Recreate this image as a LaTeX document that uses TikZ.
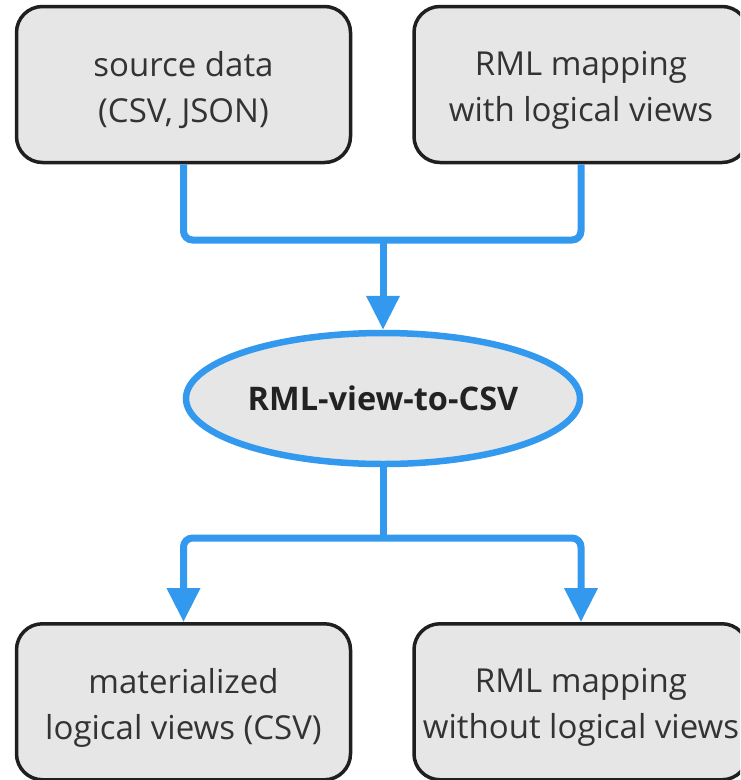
\documentclass[tikz,border=0pt]{standalone}
\usepackage{fontspec}
\setmainfont{Open Sans}
\usetikzlibrary{arrows.meta,shapes.geometric}
\definecolor{flowblue}{HTML}{3399EE}
\definecolor{boxfill}{HTML}{E6E6E6}
\definecolor{boxline}{HTML}{1F1F1F}
\definecolor{txt}{HTML}{333333}
\definecolor{boldtxt}{HTML}{222222}

\begin{document}
\begin{tikzpicture}[x=1pt,y=-1pt,
  card/.style={draw=boxline, line width=3.5pt, fill=boxfill, rounded corners=26pt,
    minimum width=334pt, minimum height=156pt, inner sep=0pt},
  cardtext/.style={inner sep=0pt, align=center, text=txt,
    font=\fontsize{33}{46}\selectfont},
  proc/.style={ellipse, draw=flowblue, line width=6.5pt, fill=boxfill,
    minimum width=394pt, minimum height=131pt, inner sep=0pt,
    font=\fontsize{32.5}{36}\selectfont\bfseries, text=boldtxt},
  flow/.style={draw=flowblue, line width=7pt, rounded corners=9pt},
  tip/.style={-{Triangle[width=32pt,length=34pt]}}
]
\useasboundingbox (0,0) rectangle (740,780);
\fill[white] (0,0) rectangle (740,780);
\clip (0,0) rectangle (740,780);

% inputs, converter and outputs
\node[card] (src) at (183.5,84.5) {};
\node[card] (map) at (581,84.5) {};
\node[proc] (conv) at (383,398.5) {RML-view-to-CSV};
\node[card] (mat) at (183.5,701.75) {};
\node[card] (out) at (581,701.75) {};

% box captions, set a little below the box centres
\node[cardtext] (srctext) at ([yshift=-6pt]src.center) {source data\\(CSV, JSON)};
\node[cardtext] (maptext) at ([yshift=-6pt]map.center) {RML mapping\\with logical views};
\node[cardtext] (mattext) at ([yshift=-6pt]mat.center) {materialized\\logical views (CSV)};
\node[cardtext] (outtext) at ([yshift=-6pt]out.center) {RML mapping\\without logical views};

% merge and split points
\coordinate (jin) at (383,240);
\coordinate (jout) at (383,538);

% connectors
\draw[flow] (src.south) |- (jin);
\draw[flow] (map.south) |- (jin);
\draw[flow,tip] (jin) -- (conv.north);
\draw[flow] (conv.south) -- (jout);
\draw[flow,tip] (jout) -| (mat.north);
\draw[flow,tip] (jout) -| (out.north);
\end{tikzpicture}
\end{document}
